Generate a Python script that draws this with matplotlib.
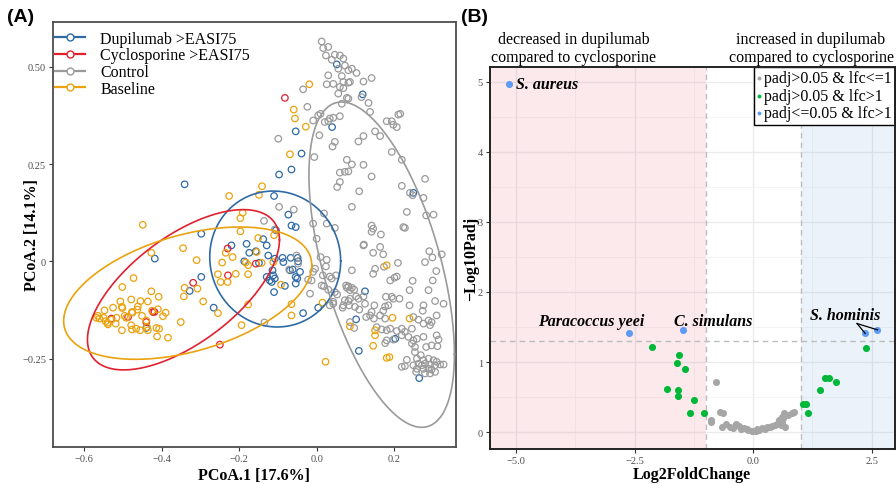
import matplotlib
matplotlib.use("Agg")
import matplotlib.pyplot as plt
import numpy as np
from matplotlib.lines import Line2D

# ---------------- Panel A data (PCoA) ----------------
groups = ["Dupilumab >EASI75", "Cyclosporine >EASI75", "Control", "Baseline"]
group_colors = ["#2F6AA6", "#E0202F", "#9A9A9A", "#EAA20E"]

dupi_pts = [
    (0.052, 0.506), (0.119, 0.429), (0.040, 0.345), (-0.054, 0.334), (-0.039, 0.277), (-0.065, 0.236),
    (-0.097, 0.223), (-0.341, 0.198), (-0.110, 0.168), (0.250, 0.176), (-0.073, 0.120), (-0.065, 0.092),
    (-0.054, 0.088), (-0.298, 0.071), (-0.138, 0.057), (-0.181, 0.045), (-0.220, 0.041), (-0.129, 0.041),
    (-0.105, 0.080), (-0.174, 0.022), (-0.157, 0.026), (-0.125, 0.015), (-0.108, 0.007), (-0.088, 0.009),
    (-0.067, 0.009), (-0.049, 0.009), (-0.048, 0.000), (-0.187, 0.000), (-0.149, -0.004), (-0.086, -0.002),
    (-0.114, -0.023), (-0.069, -0.023), (-0.043, -0.027), (-0.129, -0.040), (-0.112, -0.036), (-0.121, -0.049),
    (-0.108, -0.044), (-0.054, -0.040), (-0.050, -0.044), (-0.116, -0.053), (-0.054, -0.057), (-0.082, -0.063),
    (-0.110, -0.079), (-0.298, -0.040), (-0.328, -0.076), (-0.266, -0.119), (-0.035, -0.133), (0.004, -0.119),
    (0.125, -0.077), (0.102, -0.149), (0.203, -0.199), (0.109, -0.230), (-0.440, -0.171), (0.265, -0.300),
    (-0.418, 0.007), (-0.062, -0.021),
]

cyclo_pts = [
    (-0.082, 0.420), (-0.230, 0.033), (-0.157, -0.006), (-0.229, -0.036), (-0.319, -0.055), (-0.423, -0.130),
    (-0.440, -0.156), (-0.487, -0.143), (-0.530, -0.147), (-0.250, -0.214), (-0.419, -0.130),
]

ctrl_pts = [
    (0.013, 0.565), (0.017, 0.548), (0.030, 0.551), (0.024, 0.529), (0.047, 0.531), (0.060, 0.529),
    (0.039, 0.518), (0.069, 0.521), (0.056, 0.495), (0.073, 0.503), (0.082, 0.491), (0.091, 0.495),
    (0.103, 0.484), (0.121, 0.462), (0.142, 0.471), (0.030, 0.478), (0.065, 0.476), (0.069, 0.461),
    (0.026, 0.455), (0.043, 0.456), (0.060, 0.448), (0.069, 0.445), (0.082, 0.459), (0.086, 0.461),
    (0.056, 0.431), (0.078, 0.420), (0.082, 0.418), (0.065, 0.405), (0.116, 0.422), (0.134, 0.407),
    (0.138, 0.384), (-0.035, 0.442), (-0.024, 0.397), (-0.009, 0.362), (0.004, 0.375), (0.010, 0.379),
    (0.021, 0.358), (0.034, 0.367), (0.043, 0.369), (0.030, 0.360), (0.060, 0.373), (0.007, 0.324),
    (0.047, 0.307), (0.041, 0.295), (0.121, 0.322), (0.108, 0.308), (0.151, 0.334), (0.164, 0.322),
    (0.181, 0.360), (0.194, 0.360), (0.198, 0.351), (0.207, 0.345), (0.211, 0.377), (0.216, 0.379),
    (-0.099, 0.315), (-0.006, 0.268), (0.194, 0.281), (0.220, 0.261), (0.078, 0.261), (0.091, 0.249),
    (0.121, 0.248), (0.060, 0.228), (0.073, 0.230), (0.082, 0.231), (0.142, 0.218), (0.060, 0.204),
    (0.053, 0.191), (0.110, 0.180), (0.091, 0.140), (0.220, 0.194), (0.241, 0.176), (0.248, 0.170),
    (0.276, 0.163), (0.280, 0.212), (0.233, 0.127), (0.283, 0.118), (0.302, 0.120), (0.224, 0.088),
    (0.228, 0.086), (-0.009, 0.097), (0.019, 0.123), (0.026, 0.097), (0.047, 0.086), (0.142, 0.092),
    (0.146, 0.084), (0.121, 0.041), (0.164, 0.037), (-0.136, 0.104), (-0.108, 0.082), (-0.097, 0.140),
    (-0.059, 0.133), (0.000, 0.058), (0.142, 0.076), (0.166, 0.069), (0.122, 0.043), (0.172, 0.018),
    (0.146, 0.022), (0.291, 0.026), (0.323, 0.018), (0.299, 0.010), (0.280, -0.002), (0.210, -0.004),
    (0.151, -0.019), (0.174, -0.014), (0.091, -0.023), (0.146, -0.032), (0.201, -0.042), (0.207, -0.039),
    (0.190, -0.049), (0.248, -0.050), (0.300, -0.049), (0.309, -0.025), (0.289, -0.074), (0.240, -0.074),
    (0.214, -0.096), (0.194, -0.091), (0.198, -0.096), (0.179, -0.091), (0.306, -0.102), (0.276, -0.113),
    (-0.052, 0.015), (-0.048, -0.006), (-0.071, -0.021), (-0.004, -0.019), (-0.009, -0.027), (-0.022, -0.047),
    (-0.013, -0.049), (0.010, 0.011), (0.026, 0.004), (0.016, -0.036), (0.034, -0.039), (0.039, -0.044),
    (0.050, -0.036), (0.013, -0.062), (0.019, -0.064), (0.030, -0.073), (0.053, -0.085), (0.043, -0.104),
    (0.076, -0.062), (0.082, -0.064), (0.091, -0.068), (0.097, -0.073), (0.078, -0.068), (0.086, -0.074),
    (0.086, -0.096), (0.073, -0.100), (0.082, -0.102), (0.102, -0.090), (0.108, -0.096), (0.121, -0.090),
    (0.125, -0.109), (0.069, -0.113), (0.149, -0.113), (0.024, -0.013), (0.067, -0.119), (0.084, -0.113),
    (0.099, -0.117), (0.110, -0.124), (0.177, -0.116), (0.185, -0.113), (0.240, -0.113), (0.274, -0.127),
    (0.310, -0.139), (0.128, -0.143), (0.138, -0.139), (0.148, -0.147), (0.164, -0.139), (0.177, -0.147),
    (0.142, -0.130), (0.172, -0.127), (0.250, -0.143), (0.263, -0.150), (0.276, -0.160), (0.289, -0.152),
    (0.293, -0.164), (0.297, -0.156), (0.097, -0.171), (0.155, -0.169), (0.168, -0.175), (0.181, -0.177),
    (0.190, -0.173), (0.207, -0.179), (0.220, -0.173), (0.228, -0.181), (0.246, -0.173), (0.220, -0.190),
    (0.237, -0.194), (0.250, -0.203), (0.259, -0.199), (0.276, -0.194), (0.310, -0.190), (0.315, -0.201),
    (0.246, -0.211), (0.254, -0.220), (0.283, -0.220), (0.297, -0.216), (0.312, -0.218), (0.177, -0.210),
    (0.254, -0.233), (0.269, -0.241), (0.233, -0.253), (0.259, -0.250), (0.276, -0.254), (0.289, -0.250),
    (0.302, -0.254), (0.310, -0.258), (0.263, -0.263), (0.272, -0.267), (0.280, -0.263), (0.293, -0.265),
    (0.306, -0.267), (0.319, -0.265), (0.328, -0.265), (0.259, -0.276), (0.276, -0.276), (0.289, -0.276),
    (0.297, -0.278), (0.306, -0.284), (0.280, -0.288), (0.293, -0.288), (0.257, -0.284), (0.220, -0.271),
    (0.198, -0.201), (0.034, -0.113), (-0.135, -0.157), (-0.017, -0.083), (0.047, -0.079), (0.043, -0.109),
    (0.086, -0.156), (0.181, -0.203), (0.228, -0.269), (0.328, -0.109), (0.250, -0.267),
]

base_pts = [
    (-0.019, 0.455), (-0.059, 0.390), (-0.056, 0.367), (-0.028, 0.346), (-0.069, 0.275), (-0.141, 0.193),
    (-0.226, 0.168), (-0.149, 0.171), (-0.449, 0.094), (-0.191, 0.125), (-0.197, 0.111), (-0.197, 0.077),
    (-0.151, 0.060), (-0.110, 0.067), (-0.345, 0.034), (-0.427, 0.022), (-0.310, 0.003), (-0.473, -0.043),
    (-0.502, -0.066), (-0.427, -0.077), (-0.341, -0.068), (-0.343, -0.090), (-0.308, -0.070), (-0.408, -0.091),
    (-0.507, -0.103), (-0.479, -0.098), (-0.455, -0.102), (-0.436, -0.103), (-0.462, -0.116), (-0.526, -0.119),
    (-0.502, -0.120), (-0.463, -0.124), (-0.410, -0.123), (-0.390, -0.132), (-0.397, -0.141), (-0.476, -0.132),
    (-0.451, -0.140), (-0.496, -0.140), (-0.548, -0.126), (-0.565, -0.140), (-0.569, -0.145), (-0.561, -0.147),
    (-0.550, -0.145), (-0.545, -0.154), (-0.517, -0.145), (-0.530, -0.150), (-0.519, -0.160), (-0.539, -0.162),
    (-0.440, -0.152), (-0.479, -0.164), (-0.466, -0.173), (-0.503, -0.177), (-0.477, -0.175), (-0.436, -0.177),
    (-0.414, -0.171), (-0.407, -0.173), (-0.412, -0.193), (-0.384, -0.196), (-0.351, -0.156), (-0.293, -0.103),
    (-0.255, -0.133), (-0.255, -0.033), (-0.248, -0.053), (-0.230, -0.053), (-0.244, -0.003), (-0.209, -0.032),
    (-0.177, -0.010), (-0.177, -0.033), (-0.183, -0.003), (-0.155, 0.024), (-0.112, -0.002), (-0.092, -0.060),
    (-0.065, -0.110), (-0.065, -0.139), (-0.177, -0.111), (-0.194, -0.164), (0.015, -0.106), (0.181, -0.010),
    (0.196, -0.145), (0.086, -0.167), (0.151, -0.177), (0.151, -0.190), (0.146, -0.217), (0.181, -0.248),
    (0.188, -0.246), (0.240, -0.147), (0.023, -0.258), (-0.235, 0.022), (-0.217, 0.011), (-0.142, -0.004),
    (-0.503, -0.117), (-0.477, -0.130), (-0.425, -0.127), (-0.438, -0.169), (-0.456, -0.177), (-0.540, -0.158),
    (-0.492, -0.145),
]

# 95% ellipses: centre and shape matrix (xx, xy, yy) in data units
ell_cx = [-0.107, -0.344, 0.168, -0.333]
ell_cy = [0.006, -0.073, -0.0085, -0.0817]
ell_sxx = [0.0286, 0.0615, 0.0353, 0.1027]
ell_sxy = [-0.0009, 0.0318, -0.0433, 0.0229]
ell_syy = [0.0305, 0.0424, 0.1747, 0.0289]

a_xticks = [-0.6, -0.4, -0.2, 0.0, 0.2]
a_xticklabels = ["\u22120.6", "\u22120.4", "\u22120.2", "0.0", "0.2"]
a_yticks = [-0.25, 0.0, 0.25, 0.50]
a_yticklabels = ["\u22120.25", "0", "0.25", "0.50"]

# ---------------- Panel B data (volcano) ----------------
grey_lfc = [-0.78, -0.69, -0.64, -0.88, -0.88, -0.65, -0.58, -0.48, -0.42, -0.37, -0.30, -0.25, -0.20, -0.13,
            -0.10, -0.02, 0.00, 0.05, 0.08, 0.12, 0.19, 0.25, 0.29, 0.35, 0.40, 0.45, 0.51, 0.54, 0.58,
            0.60, 0.61, 0.62, 0.64, 0.66, 0.73, 0.82, 0.87]
grey_p = [0.71, 0.29, 0.28, 0.18, 0.15, 0.07, 0.12, 0.07, 0.06, 0.12, 0.09, 0.05, 0.06, 0.05,
          0.03, 0.02, 0.01, 0.01, 0.04, 0.03, 0.06, 0.05, 0.07, 0.07, 0.09, 0.10, 0.12, 0.17, 0.10,
          0.15, 0.21, 0.20, 0.28, 0.08, 0.24, 0.28, 0.29]
green_lfc = [-2.14, -1.56, -1.61, -1.43, -1.81, -1.59, -1.59, -1.24, -1.33, -1.03,
             2.37, 1.52, 1.59, 1.75, 1.40, 1.06, 1.12, 1.16]
green_p = [1.21, 1.10, 0.99, 0.90, 0.62, 0.60, 0.52, 0.46, 0.28, 0.28,
           1.20, 0.78, 0.78, 0.72, 0.60, 0.40, 0.40, 0.28]
sig_lfc = [-5.15, -2.62, -1.49, 2.36, 2.62]
sig_p = [4.97, 1.41, 1.46, 1.41, 1.46]

b_xticks = [-5.0, -2.5, 0.0, 2.5]
b_xticklabels = ["\u22125.0", "\u22122.5", "0.0", "2.5"]
b_yticks = [0, 1, 2, 3, 4, 5]

# ---------------- Style ----------------
plt.rcParams['font.family'] = 'serif'
plt.rcParams['font.serif'] = ['Liberation Serif', 'DejaVu Serif']
plt.rcParams['axes.unicode_minus'] = True

W, H = 896, 485
fig = plt.figure(figsize=(W / 100, H / 100), dpi=100)


def fx(px):
    return px / W


def fy(py):
    return 1 - py / H


tick_col = '#4D4D4D'

# ================= Panel A =================
axA = fig.add_axes([fx(53), fy(448), fx(456) - fx(53), fy(23) - fy(448)])
axA.set_xlim(-0.681, 0.360)
axA.set_ylim(-0.477, 0.615)

all_pts = [dupi_pts, cyclo_pts, ctrl_pts, base_pts]
for pts, col in zip(all_pts, group_colors):
    arr = np.array(pts)
    axA.scatter(arr[:, 0], arr[:, 1], s=22, facecolors='none', edgecolors=col, linewidths=0.9, zorder=3)

t = np.linspace(0, 2 * np.pi, 300)
for i, col in enumerate(group_colors):
    L = np.linalg.cholesky(np.array([[ell_sxx[i], ell_sxy[i]], [ell_sxy[i], ell_syy[i]]]))
    xy = L @ np.vstack([np.cos(t), np.sin(t)])
    axA.plot(ell_cx[i] + xy[0], ell_cy[i] + xy[1], color=col, lw=1.2, zorder=4)

axA.set_xticks(a_xticks)
axA.set_xticklabels(a_xticklabels)
axA.set_yticks(a_yticks)
axA.set_yticklabels(a_yticklabels)
axA.tick_params(direction='out', length=3, width=0.8, color='#333333', labelsize=7.5, labelcolor=tick_col, pad=2)
for sp in axA.spines.values():
    sp.set_color('#4D4D4D')
    sp.set_linewidth(1.3)

handles = [Line2D([0], [0], color=c, lw=1.6, marker='o', markersize=5, markerfacecolor='white',
                  markeredgecolor=c, markeredgewidth=1.0) for c in group_colors]
axA.legend(handles, groups, loc='upper left', bbox_to_anchor=(0.0, 0.983), frameon=False,
           fontsize=11.5, handlelength=1.9, handletextpad=0.95, labelspacing=0.04, borderpad=0.1,
           borderaxespad=0)

fig.text(fx(254), fy(476), 'PCoA.1 [17.6%]', ha='center', va='center', fontsize=11.5, fontweight='bold')
fig.text(fx(32), fy(235), 'PCoA.2 [14.1%]', ha='center', va='center', rotation=90, fontsize=11.5,
         fontweight='bold')
fig.text(fx(7), fy(17), '(A)', ha='left', va='center', fontsize=14, fontweight='bold',
         family='Liberation Sans')

# ================= Panel B =================
axB = fig.add_axes([fx(490), fy(450), fx(895) - fx(490), fy(68) - fy(450)])
axB.set_xlim(-5.55, 2.99)
axB.set_ylim(-0.24, 5.21)

axB.set_xticks(b_xticks)
axB.set_xticklabels(b_xticklabels)
axB.set_yticks(b_yticks)
axB.set_xticks([-3.75, -1.25, 1.25], minor=True)
axB.set_yticks([0.5, 1.5, 2.5, 3.5, 4.5], minor=True)
axB.grid(True, which='major', color='#EBEBEB', lw=1.0, zorder=0)
axB.grid(True, which='minor', color='#F2F2F2', lw=0.6, zorder=0)
axB.set_axisbelow(True)
axB.tick_params(which='minor', length=0)
axB.tick_params(which='major', direction='out', length=3, width=0.8, color='#333333', labelsize=7.5,
                labelcolor=tick_col, pad=2)

axB.axvspan(-5.55, -1, color='#E8798D', alpha=0.16, lw=0, zorder=1)
axB.axvspan(1, 2.99, color='#6A9BD8', alpha=0.12, lw=0, zorder=1)
axB.axvline(-1, color='#BDBDBD', ls=(0, (4, 3)), lw=1.0, zorder=2)
axB.axvline(1, color='#BDBDBD', ls=(0, (4, 3)), lw=1.0, zorder=2)
axB.axhline(-np.log10(0.05), color='#BDBDBD', ls=(0, (4, 3)), lw=1.0, zorder=2)

axB.scatter(grey_lfc, grey_p, s=26, color='#A6A6A6', lw=0, zorder=3, label='padj>0.05 & lfc<=1')
axB.scatter(green_lfc, green_p, s=26, color='#00B838', lw=0, zorder=3, label='padj>0.05 & lfc>1')
axB.scatter(sig_lfc, sig_p, s=26, color='#5E9BF5', lw=0, zorder=3, label='padj<=0.05 & lfc>1')

lab_kw = dict(fontsize=11.5, fontweight='bold', fontstyle='italic', va='center', zorder=5)
axB.text(sig_lfc[0] + 0.14, sig_p[0], 'S. aureus', ha='left', **lab_kw)
axB.text(-3.41, 1.59, 'Paracoccus yeei', ha='center', **lab_kw)
axB.text(-0.84, 1.59, 'C. simulans', ha='center', **lab_kw)
axB.text(1.95, 1.67, 'S. hominis', ha='center', **lab_kw)
for xi, yi in zip(sig_lfc[3:], sig_p[3:]):
    axB.plot([2.19, xi], [1.55, yi], color='black', lw=0.9, zorder=4)

leg = axB.legend(loc='upper right', borderaxespad=0, fontsize=11.5, handlelength=0.3, handletextpad=0.15,
                 markerscale=0.55, labelspacing=0.1, borderpad=0.2, fancybox=False, framealpha=1)
leg.get_frame().set_edgecolor('black')
leg.get_frame().set_linewidth(1.0)

for sp in axB.spines.values():
    sp.set_color('#222222')
    sp.set_linewidth(1.4)
    sp.set_zorder(6)

axB.text(-3.79, 1.005, 'decreased in dupilumab\ncompared to cyclosporine', transform=axB.get_xaxis_transform(),
         ha='center', va='bottom', fontsize=11.5, linespacing=1.15)
axB.text(1.22, 1.005, 'increased in dupilumab\ncompared to cyclosporine', transform=axB.get_xaxis_transform(),
         ha='center', va='bottom', fontsize=11.5, linespacing=1.15)

fig.text(fx(692), fy(475), 'Log2FoldChange', ha='center', va='center', fontsize=11.5, fontweight='bold')
fig.text(fx(471), fy(259), '\u2212Log10Padj', ha='center', va='center', rotation=90, fontsize=11.5,
         fontweight='bold')
fig.text(fx(461), fy(17), '(B)', ha='left', va='center', fontsize=14, fontweight='bold',
         family='Liberation Sans')

fig.savefig('out.png', dpi=100)
